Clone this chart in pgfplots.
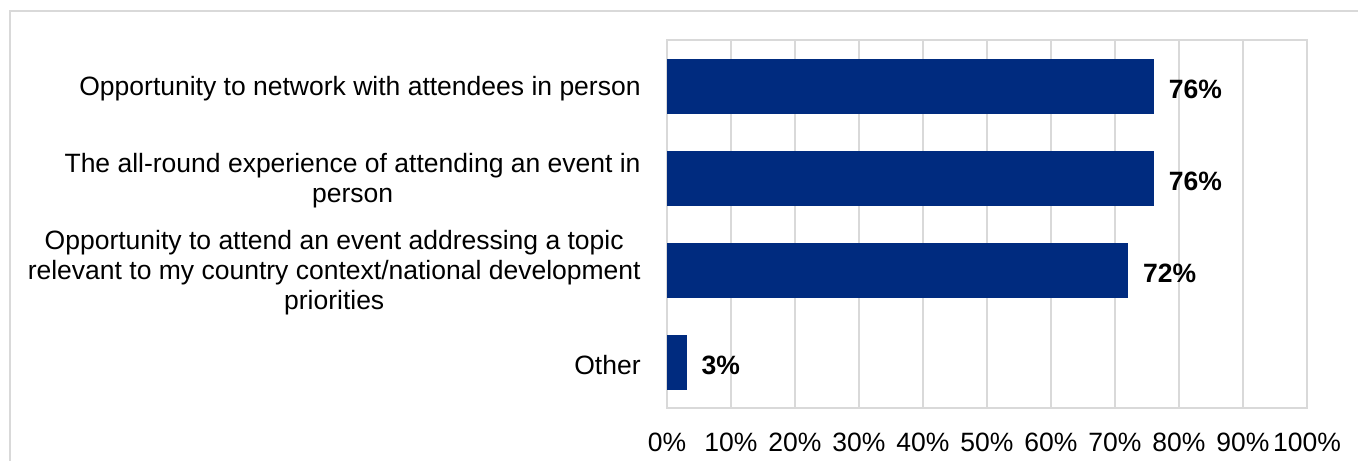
\documentclass[border=0pt]{standalone}
\usepackage{fontspec}
\setmainfont{Liberation Sans}
\usepackage{pgfplots}
\pgfplotsset{compat=1.18}
\definecolor{barblue}{HTML}{002B7F}
\definecolor{gridgray}{HTML}{D9D9D9}
\begin{document}
\begin{tikzpicture}
\draw[gridgray, line width=1bp] (4.75bp,0) -- (4.75bp,225bp) -- (679bp,225bp);
\begin{axis}[
  at={(333.5bp,26.5bp)}, anchor=south west,
  scale only axis, width=320bp, height=184bp,
  xbar, bar width=27bp,
  xmin=0, xmax=100, ymin=-0.5, ymax=3.5, y dir=reverse,
  xtick={0,10,...,100},
  xticklabel={\pgfmathprintnumber{\tick}\%},
  /pgf/number format/assume math mode=true,
  ytick={0,1,2,3},
  yticklabels={
    {Opportunity to network with attendees in person},
    {The all-round experience of attending an event in\\person},
    {Opportunity to attend an event addressing a topic\\relevant to my country context/national development\\priorities},
    {Other}},
  major tick length=0pt,
  axis line style={gridgray, line width=1bp},
  xmajorgrids, grid style={gridgray, line width=1bp},
  tick label style={font=\fontsize{13.25bp}{15bp}\selectfont, text=black},
  xticklabel style={anchor=north, inner sep=0pt, yshift=-12.5bp},
  yticklabel style={anchor=east, align=center, inner sep=0pt, xshift=-13bp, yshift=-1.5bp},
  nodes near coords={\pgfmathprintnumber{\pgfplotspointmeta}\%},
  every node near coord/.append style={font=\fontsize{13.25bp}{15bp}\selectfont\bfseries, text=black, anchor=west, inner sep=0pt, xshift=7.5bp, yshift=-1.5bp},
]
\addplot[fill=barblue, draw=barblue] coordinates {(76,0) (76,1) (72,2) (3,3)};
\end{axis}
\pgfresetboundingbox
\useasboundingbox (0,0) rectangle (679bp,230.5bp);
\end{tikzpicture}
\end{document}
